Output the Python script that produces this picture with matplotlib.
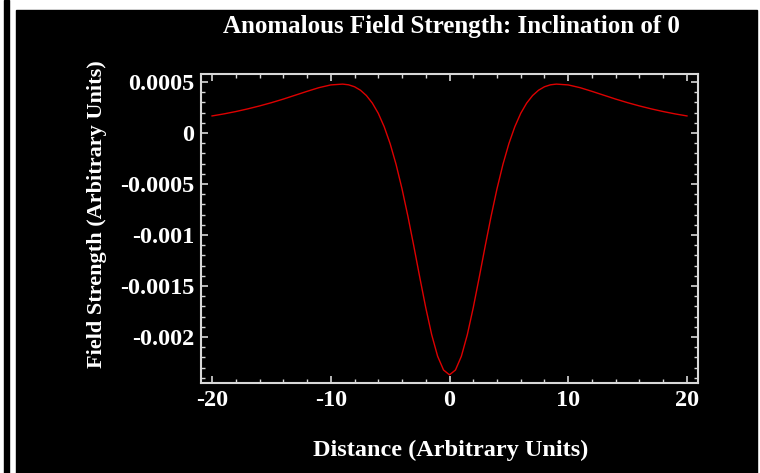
import numpy as np
import matplotlib
matplotlib.use("Agg")
import matplotlib.pyplot as plt
from matplotlib.patches import Rectangle
from matplotlib.ticker import FixedLocator, MultipleLocator

# ============================================================
# Data
# ============================================================
DISTANCE = [-20, -19, -18, -17, -16, -15, -14, -13, -12, -11, -10, -9,
            -8.5, -8, -7.5, -7, -6.5, -6, -5.5, -5, -4.5, -4, -3.5, -3,
            -2.5, -2, -1.5, -1, -0.5, 0, 0.5, 1, 1.5, 2, 2.5, 3, 3.5, 4,
            4.5, 5, 5.5, 6, 6.5, 7, 7.5, 8, 8.5, 9, 10, 11, 12, 13, 14,
            15, 16, 17, 18, 19, 20]

FIELD = [0.000167, 0.000187, 0.000210, 0.000236, 0.000265, 0.000297,
         0.000332, 0.000370, 0.000408, 0.000444, 0.000471, 0.000479,
         0.000472, 0.000453, 0.000419, 0.000367, 0.000293, 0.000193,
         0.000061, -0.000105, -0.000308, -0.000547, -0.000818, -0.001112,
         -0.001417, -0.001712, -0.001977, -0.002188, -0.002323, -0.002370,
         -0.002323, -0.002188, -0.001977, -0.001712, -0.001417, -0.001112,
         -0.000818, -0.000547, -0.000308, -0.000105, 0.000061, 0.000193,
         0.000293, 0.000367, 0.000419, 0.000453, 0.000472, 0.000479,
         0.000471, 0.000444, 0.000408, 0.000370, 0.000332, 0.000297,
         0.000265, 0.000236, 0.000210, 0.000187, 0.000167]

X_TICKS = [-20, -10, 0, 10, 20]
X_TICK_LABELS = ["-20", "-10", "0", "10", "20"]
Y_TICKS = [0.0005, 0.0, -0.0005, -0.001, -0.0015, -0.002]
Y_TICK_LABELS = ["0.0005", "0", "-0.0005", "-0.001", "-0.0015", "-0.002"]

TITLE = "Anomalous Field Strength: Inclination of 0"
X_LABEL = "Distance (Arbitrary Units)"
Y_LABEL = "Field Strength (Arbitrary Units)"

# ============================================================
# Style
# ============================================================
W, H = 760, 473
FONT = "Liberation Serif"
FG = "white"
SPINE = "#d8d8d8"
LINE = "#dd0000"


def px(x, y):
    # pixel position (from top-left) -> figure fraction
    return x / W, 1 - y / H


def draw_frame(fig):
    # white page, thin black rule on the left, black panel
    fig.patches.append(Rectangle((4 / W, 0), 5 / W, 1, transform=fig.transFigure,
                                 color="black", zorder=-10))
    fig.patches.append(Rectangle((16 / W, 0), (757 - 16) / W, (H - 10) / H,
                                 transform=fig.transFigure, color="black", zorder=-10))


def main():
    fig = plt.figure(figsize=(W / 100, H / 100), dpi=100, facecolor="white")
    draw_frame(fig)

    left, top = px(201, 74)
    right, bottom = px(698, 383)
    ax = fig.add_axes([left, bottom, right - left, top - bottom])
    ax.set_facecolor("black")

    ax.plot(DISTANCE, FIELD, color=LINE, lw=1.0)

    ax.set_xlim(-20.93, 20.93)
    ax.set_ylim(-0.00245, 0.000578)

    ax.xaxis.set_major_locator(FixedLocator(X_TICKS))
    ax.set_xticklabels(X_TICK_LABELS)
    ax.xaxis.set_minor_locator(MultipleLocator(2))
    ax.yaxis.set_major_locator(FixedLocator(Y_TICKS))
    ax.set_yticklabels(Y_TICK_LABELS)
    ax.yaxis.set_minor_locator(MultipleLocator(0.0001))

    ax.tick_params(which="both", direction="in", top=True, right=True,
                   color=SPINE, labelcolor=FG)
    ax.tick_params(which="major", length=5, width=1.2, pad=5)
    ax.tick_params(which="minor", length=3, width=1.0)
    for lab in ax.get_xticklabels() + ax.get_yticklabels():
        lab.set_fontfamily(FONT)
        lab.set_fontweight("bold")
        lab.set_fontsize(17.5)

    for sp in ax.spines.values():
        sp.set_color(SPINE)
        sp.set_linewidth(1.5)

    tx, ty = px(451, 27)
    fig.text(tx, ty, TITLE, color=FG, family=FONT, weight="bold",
             fontsize=18, ha="center", va="center")
    lx, ly = px(451, 450)
    fig.text(lx, ly, X_LABEL, color=FG, family=FONT, weight="bold",
             fontsize=17.5, ha="center", va="center")
    yx, yy = px(97, 214)
    fig.text(yx, yy, Y_LABEL, color=FG, family=FONT, weight="bold",
             fontsize=16, ha="center", va="center", rotation=90)

    fig.savefig("out.png", dpi=100, facecolor="white")


if __name__ == "__main__":
    main()
